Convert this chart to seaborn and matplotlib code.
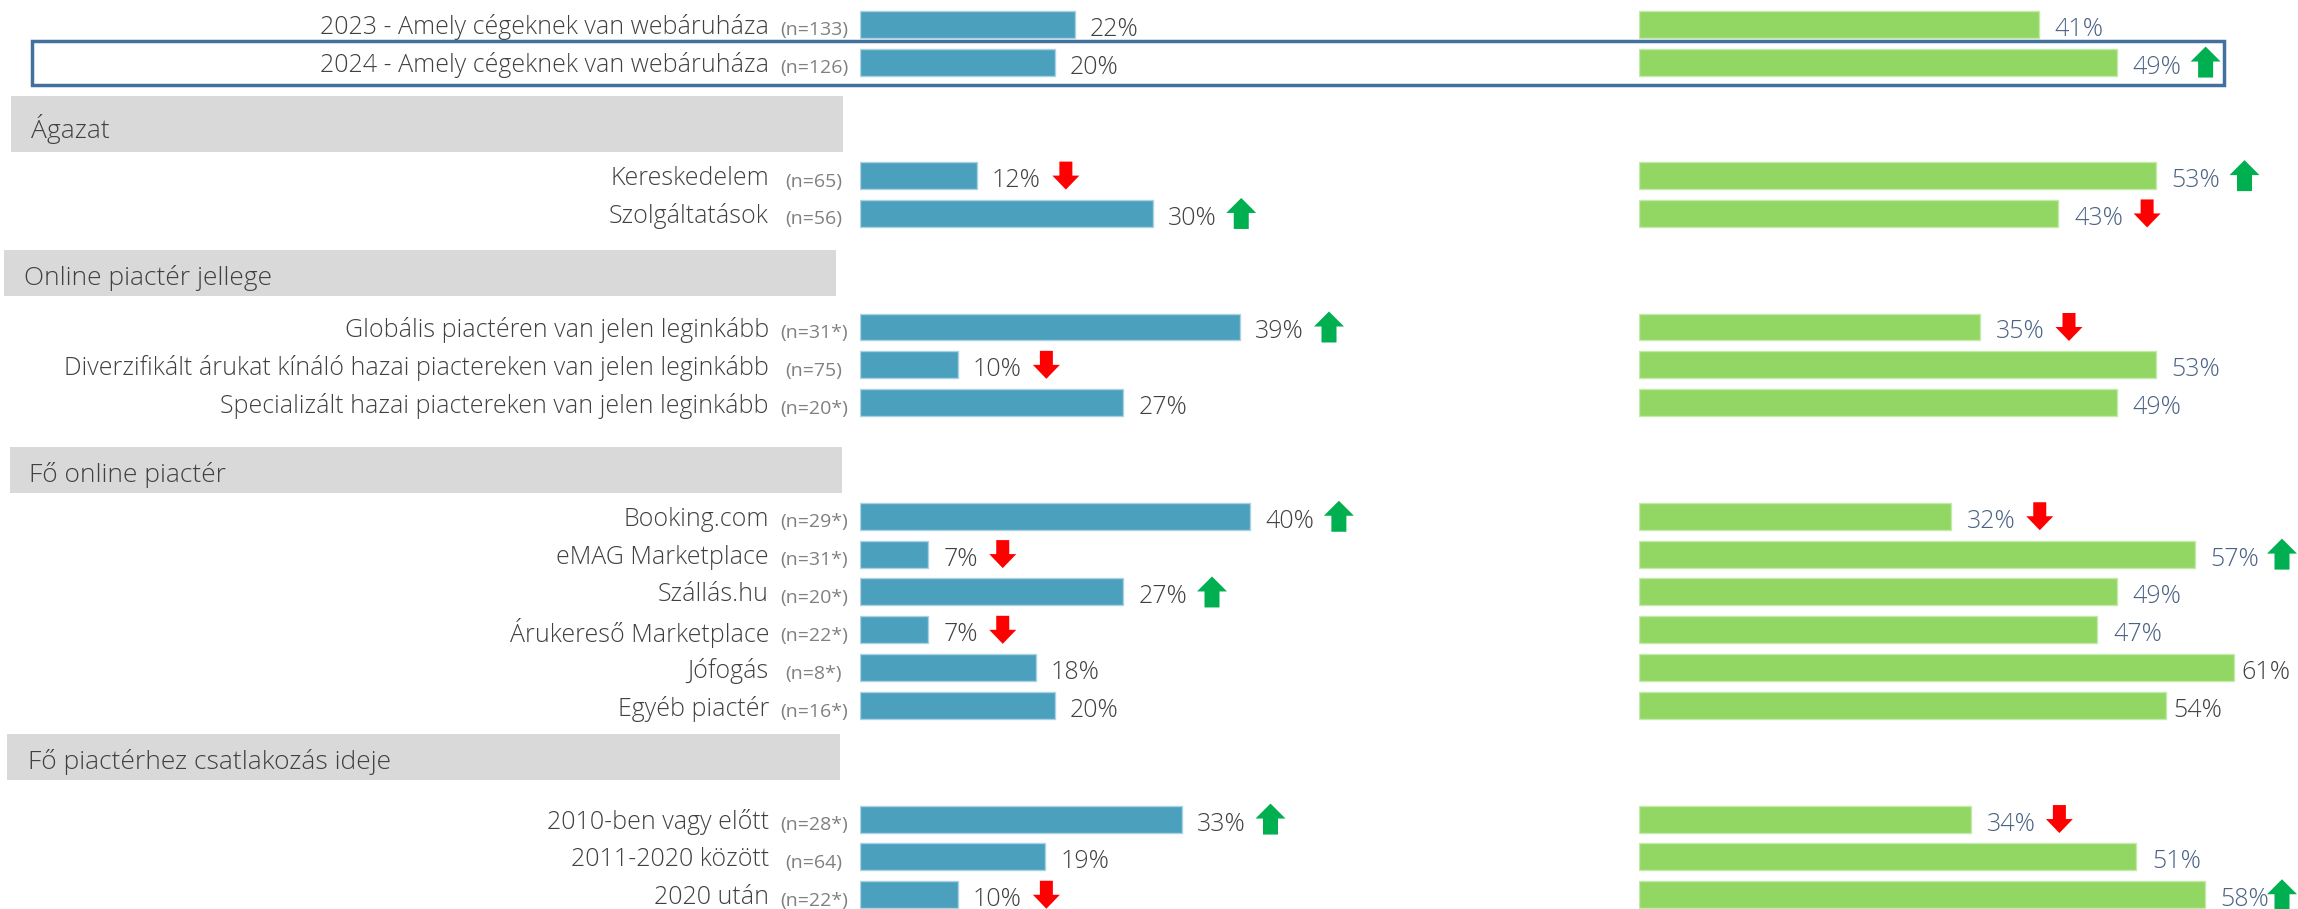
import numpy as np
import pandas as pd
import matplotlib
matplotlib.use("Agg")
import matplotlib.pyplot as plt
import matplotlib.transforms as mtransforms
from matplotlib.patches import Rectangle, Polygon
import seaborn as sns

# ---------------- data ----------------
labels = [
    "2023 - Amely cégeknek van webáruháza",
    "2024 - Amely cégeknek van webáruháza",
    "Kereskedelem",
    "Szolgáltatások",
    "Globális piactéren van jelen leginkább",
    "Diverzifikált árukat kínáló hazai piactereken van jelen leginkább",
    "Specializált hazai piactereken van jelen leginkább",
    "Booking.com",
    "eMAG Marketplace",
    "Szállás.hu",
    "Árukereső Marketplace",
    "Jófogás",
    "Egyéb piactér",
    "2010-ben vagy előtt",
    "2011-2020 között",
    "2020 után",
]
n_labels = ["(n=133)", "(n=126)", "(n=65)", "(n=56)", "(n=31*)", "(n=75)", "(n=20*)",
            "(n=29*)", "(n=31*)", "(n=20*)", "(n=22*)", "(n=8*)", "(n=16*)",
            "(n=28*)", "(n=64)", "(n=22*)"]
groups = [None, None, "Ágazat", "Ágazat",
          "Online piactér jellege", "Online piactér jellege", "Online piactér jellege",
          "Fő online piactér", "Fő online piactér", "Fő online piactér",
          "Fő online piactér", "Fő online piactér", "Fő online piactér",
          "Fő piactérhez csatlakozás ideje", "Fő piactérhez csatlakozás ideje",
          "Fő piactérhez csatlakozás ideje"]
blue_values = [22, 20, 12, 30, 39, 10, 27, 40, 7, 27, 7, 18, 20, 33, 19, 10]
green_values = [41, 49, 53, 43, 35, 53, 49, 32, 57, 49, 47, 61, 54, 34, 51, 58]
# +1 significant increase (green up arrow), -1 significant decrease (red down arrow)
blue_trend = [0, 0, -1, 1, 1, -1, 0, 1, -1, 1, -1, 0, 0, 1, 0, -1]
green_trend = [0, 1, 1, -1, -1, 0, 0, -1, 1, 0, 0, 0, 0, -1, 0, 1]
green_dark_label = [False] * 11 + [True, True] + [False] * 3
highlight_row = 1

# ---------------- layout / style ----------------
W, H = 2298, 909
PX_PER_PCT = 9.75
Y0, STEP = 24.2, 37.85
BLUE_X0, GREEN_X0 = 860, 1639
LABEL_RIGHT = 769
N_CENTER = 814

C_BLUE = "#4BA0BE"
C_GREEN = "#92D664"
C_TEXT = "#404040"
C_SLATE = "#4A6285"
C_N = "#808080"
C_HDR = "#D9D9D9"
C_UP = "#00B050"
C_DOWN = "#FF0000"
C_BOX = "#41719C"

FS_LABEL = 18
FS_N = 14
FS_VAL = 18
FS_HDR = 19
WEIGHT = "light"

# header geometry: (center offset after previous row slot, height px, x0, x1, text x)
header_geom = {
    "Ágazat": (1.64, 55.7, 11, 843, 31),
    "Online piactér jellege": (1.57, 45.7, 4, 836, 24),
    "Fő online piactér": (1.77, 46, 10, 842, 29),
    "Fő piactérhez csatlakozás ideje": (1.36, 46, 7, 840, 28),
}

sns.set_theme(style="white")
plt.rcParams["font.family"] = ["Open Sans", "DejaVu Sans"]

# slot positions: each new section inserts two extra slots for its header
slots = []
headers = []
s = -1
prev = None
for g in groups:
    if g is not None and g != prev:
        headers.append((g, s))
        s += 3
    else:
        s += 1
    slots.append(s)
    prev = g

df = pd.DataFrame({"label": labels, "slot": slots, "blue": blue_values, "green": green_values})

fig = plt.figure(figsize=(W / 100, H / 100), dpi=100)
ylo, yhi = (H - Y0) / STEP, -Y0 / STEP

ax_b = fig.add_axes([BLUE_X0 / W, 0, (1620 - BLUE_X0) / W, 1])
ax_g = fig.add_axes([GREEN_X0 / W, 0, (W - GREEN_X0) / W, 1])

sns.barplot(data=df, x="blue", y="slot", orient="h", native_scale=True, width=0.713,
            color=C_BLUE, saturation=1, errorbar=None, edgecolor="#A9D2E2",
            linewidth=1.0, ax=ax_b)
sns.barplot(data=df, x="green", y="slot", orient="h", native_scale=True, width=0.713,
            color=C_GREEN, saturation=1, errorbar=None, edgecolor="#C3EAA9",
            linewidth=1.0, ax=ax_g)

ax_b.set_xlim(0, (1620 - BLUE_X0) / PX_PER_PCT)
ax_g.set_xlim(0, (W - GREEN_X0) / PX_PER_PCT)
for ax in (ax_b, ax_g):
    ax.set_ylim(ylo, yhi)
    ax.axis("off")

def py_of_slot(sl):
    return Y0 + sl * STEP

# header boxes
for name, prev_slot in headers:
    off, hpx, x0, x1, tx = header_geom[name]
    cy = py_of_slot(prev_slot + off)
    fig.add_artist(Rectangle((x0 / W, 1 - (cy + hpx / 2) / H), (x1 - x0) / W, hpx / H,
                             transform=fig.transFigure, facecolor=C_HDR, edgecolor="none",
                             zorder=0))
    fig.text(tx / W, 1 - (cy + 2) / H, name, ha="left", va="center_baseline",
             fontsize=FS_HDR, color=C_TEXT, fontweight=WEIGHT)

# highlight box around the 2024 row
hy = py_of_slot(slots[highlight_row])
fig.add_artist(Rectangle((32 / W, 1 - (hy + 23) / H), (2224 - 32) / W, 44 / H,
                         transform=fig.transFigure, fill=False, edgecolor=C_BOX,
                         linewidth=2.5, zorder=5))

trans_lab = mtransforms.blended_transform_factory(fig.transFigure, ax_b.transData)
val_texts_b, val_texts_g = [], []
for i, row in df.iterrows():
    sl = row["slot"]
    ax_b.text(LABEL_RIGHT / W, sl, row["label"], transform=trans_lab, ha="right",
              va="center_baseline", fontsize=FS_LABEL, color=C_TEXT, fontweight=WEIGHT)
    ax_b.text(N_CENTER / W, sl + 4 / STEP, n_labels[i], transform=trans_lab, ha="center",
              va="center_baseline", fontsize=FS_N, color=C_N)
    tb = ax_b.text(row["blue"] + 15 / PX_PER_PCT, sl + 2 / STEP, f"{row['blue']}%",
                   ha="left", va="center_baseline", fontsize=FS_VAL, color=C_TEXT,
                   fontweight=WEIGHT)
    dark = green_dark_label[i]
    tg = ax_g.text(row["green"] + (8 if dark else 16) / PX_PER_PCT, sl + 2 / STEP,
                   f"{row['green']}%", ha="left", va="center_baseline", fontsize=FS_VAL,
                   color=C_TEXT if dark else C_SLATE, fontweight=WEIGHT)
    val_texts_b.append(tb)
    val_texts_g.append(tg)

fig.canvas.draw()
renderer = fig.canvas.get_renderer()

def draw_arrow(cx, cy, up):
    cx = min(cx, W - 16)
    if up:
        hw, sw, h, hh, col = 30, 15, 31, 15, C_UP
        top, bot = cy + h / 2, cy - h / 2
        pts = [(cx - sw / 2, bot), (cx + sw / 2, bot), (cx + sw / 2, top - hh),
               (cx + hw / 2, top - hh), (cx, top), (cx - hw / 2, top - hh),
               (cx - sw / 2, top - hh)]
    else:
        hw, sw, h, hh, col = 27, 13, 28, 14, C_DOWN
        top, bot = cy + h / 2, cy - h / 2
        pts = [(cx - sw / 2, top), (cx + sw / 2, top), (cx + sw / 2, bot + hh),
               (cx + hw / 2, bot + hh), (cx, bot), (cx - hw / 2, bot + hh),
               (cx - sw / 2, bot + hh)]
    pts = [(x / W, y / H) for x, y in pts]
    fig.add_artist(Polygon(pts, closed=True, transform=fig.transFigure, facecolor=col,
                           edgecolor="none", zorder=6))

for i, sl in enumerate(slots):
    cy = ax_b.transData.transform((0, sl))[1]
    if blue_trend[i] != 0:
        bb = val_texts_b[i].get_window_extent(renderer)
        draw_arrow(bb.x1 + 25, cy, blue_trend[i] > 0)
    if green_trend[i] != 0:
        bb = val_texts_g[i].get_window_extent(renderer)
        draw_arrow(bb.x1 + 24, cy, green_trend[i] > 0)

fig.savefig("out.png", dpi=100)
